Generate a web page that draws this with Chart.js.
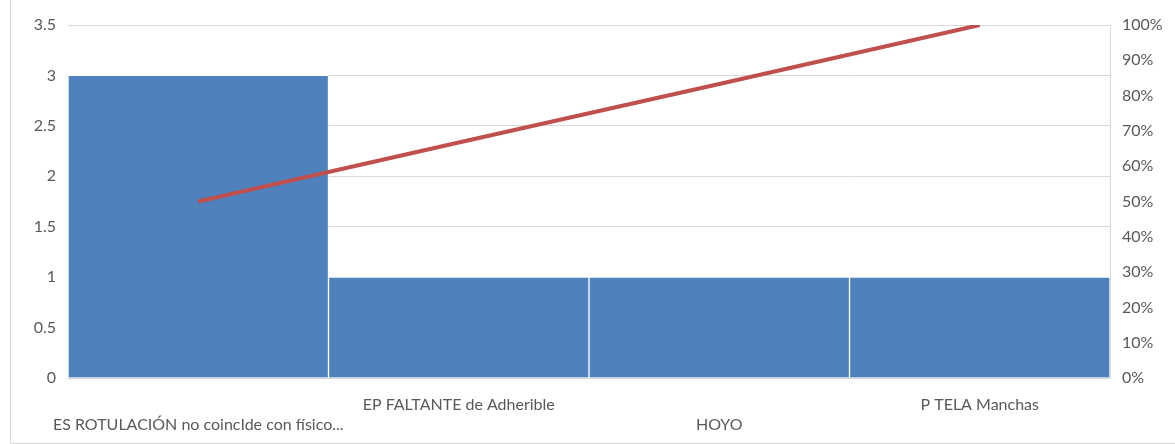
<!DOCTYPE html>
<html lang="es">
<head>
<meta charset="UTF-8">
<title>Pareto de defectos</title>
<script src="https://cdn.jsdelivr.net/npm/chart.js"></script>
<style>
  * { margin: 0; padding: 0; box-sizing: border-box; }
  body { background: #fff; width: 1175px; height: 444px; overflow: hidden; }
  .frame { position: absolute; left: 10px; top: 0; width: 1165px; height: 444px;
           border-left: 1px solid #d9d9d9; border-bottom: 1px solid #d9d9d9; }
  canvas { display: block; }
</style>
</head>
<body>
<div class="frame"><canvas id="chart" width="1164" height="443"></canvas></div>
<script>
// defect categories and their counts
const categories = ["ES ROTULACIÓN no coincIde con físico...", "EP FALTANTE de Adherible", "HOYO", "P TELA Manchas"];
const counts = [3, 1, 1, 1];
// cumulative share in percent
const cumulative = [50, 66.7, 83.3, 100];
const leftTicks = [0, 0.5, 1, 1.5, 2, 2.5, 3, 3.5];

const grey = "#595959";
const tickFont = { family: "Lato, 'Liberation Sans', sans-serif", size: 16 };

new Chart(document.getElementById("chart"), {
  data: {
    labels: categories,
    datasets: [
      {
        type: "line", data: cumulative, yAxisID: "y2",
        borderColor: "#c0504d", borderWidth: 4, pointRadius: 0, order: 0
      },
      {
        type: "bar", data: counts, yAxisID: "y",
        backgroundColor: "#4f81bd", borderColor: "#fff", borderWidth: 1,
        barPercentage: 1, categoryPercentage: 1, order: 1
      }
    ]
  },
  options: {
    responsive: false,
    animation: false,
    layout: { padding: { top: 25 } },
    plugins: { legend: { display: false }, tooltip: { enabled: false } },
    scales: {
      x: {
        grid: { display: false },
        border: { display: true, color: "#d9d9d9" },
        ticks: {
          color: grey, font: { ...tickFont, lineHeight: 1.3 }, maxRotation: 0, autoSkip: false, padding: 8,
          // alternate labels between two rows
          callback: (v, i) => i % 2 === 0 ? ["", categories[i]] : [categories[i]]
        },
        afterFit: s => { s.height = 65; }
      },
      y: {
        position: "left", min: 0, max: 3.5,
        afterBuildTicks: s => { s.ticks = leftTicks.map(v => ({ value: v })); },
        grid: { color: "#d9d9d9", drawTicks: false },
        border: { display: false },
        ticks: { color: grey, font: tickFont, padding: 12, callback: v => String(v) },
        afterFit: s => { s.width = 57; }
      },
      y2: {
        position: "right", min: 0, max: 100,
        ticks: { stepSize: 10, color: grey, font: tickFont, padding: 12, callback: v => v + "%" },
        grid: { display: false, drawTicks: false },
        border: { display: true, color: "#d9d9d9" },
        afterFit: s => { s.width = 65; }
      }
    }
  }
});
</script>
</body>
</html>
